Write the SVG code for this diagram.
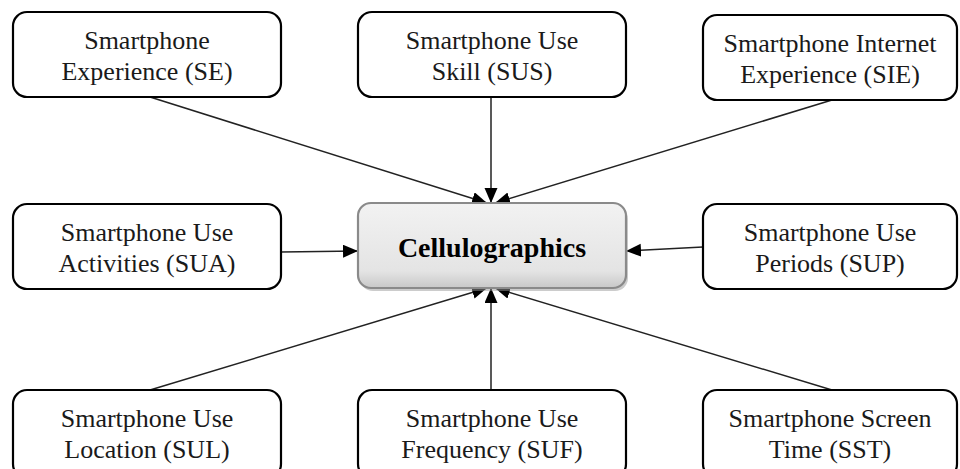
<svg xmlns="http://www.w3.org/2000/svg" width="960" height="469" viewBox="0 0 960 469">
<defs>
<style>
.box{fill:#fff;stroke:#000;stroke-width:2.2}
.t{font-family:"Liberation Serif","Times New Roman",serif;font-size:26px;fill:#1a1a1a;text-anchor:middle}
.c{font-family:"Liberation Serif","Times New Roman",serif;font-size:28px;font-weight:bold;fill:#000;text-anchor:middle}
.ln{stroke:#222;stroke-width:1.5;fill:none;marker-end:url(#ah)}
</style>
<marker id="ah" markerUnits="userSpaceOnUse" markerWidth="16" markerHeight="14" refX="15" refY="6.5" orient="auto">
<path d="M0,0 L15,6.5 L0,13 Z" fill="#000"/>
</marker>
<linearGradient id="g" x1="0" y1="0" x2="0" y2="1">
<stop offset="0" stop-color="#f2f2f2"/>
<stop offset="0.8" stop-color="#e4e4e4"/>
<stop offset="1" stop-color="#c8c8c8"/>
</linearGradient>
</defs>
<rect width="960" height="469" fill="#fff"/>
<g id="connectors">
<path class="ln" d="M150,97 L487,203"/>
<path class="ln" d="M491,97 L491,203"/>
<path class="ln" d="M832,100 L495,203"/>
<path class="ln" d="M281,252 L358,251"/>
<path class="ln" d="M703,247 L626,251"/>
<path class="ln" d="M150,390 L487,288"/>
<path class="ln" d="M491,390 L491,288"/>
<path class="ln" d="M832,390 L495,288"/>
</g>
<g id="SE"><rect class="box" x="13" y="12" width="268" height="85" rx="14"/><text class="t" x="147" y="49">Smartphone</text><text class="t" x="147" y="80">Experience (SE)</text></g>
<g id="SUS"><rect class="box" x="358" y="12" width="268" height="85" rx="14"/><text class="t" x="492" y="49">Smartphone Use</text><text class="t" x="492" y="80">Skill (SUS)</text></g>
<g id="SIE"><rect class="box" x="703" y="15" width="254" height="85" rx="14"/><text class="t" x="830" y="52">Smartphone Internet</text><text class="t" x="830" y="83">Experience (SIE)</text></g>
<g id="SUA"><rect class="box" x="13" y="204" width="268" height="85" rx="14"/><text class="t" x="147" y="241">Smartphone Use</text><text class="t" x="147" y="272">Activities (SUA)</text></g>
<g id="Cellulographics"><rect x="360" y="206" width="268" height="85" rx="13" fill="#9a9a9a" opacity="0.5"/><rect x="358" y="203" width="268" height="85" rx="13" fill="url(#g)" stroke="#8a8a8a" stroke-width="2.2"/><text class="c" x="492" y="257">Cellulographics</text></g>
<g id="SUP"><rect class="box" x="703" y="204" width="254" height="85" rx="14"/><text class="t" x="830" y="241">Smartphone Use</text><text class="t" x="830" y="272">Periods (SUP)</text></g>
<g id="SUL"><rect class="box" x="13" y="390" width="268" height="88" rx="14"/><text class="t" x="147" y="427">Smartphone Use</text><text class="t" x="147" y="458">Location (SUL)</text></g>
<g id="SUF"><rect class="box" x="358" y="390" width="268" height="88" rx="14"/><text class="t" x="492" y="427">Smartphone Use</text><text class="t" x="492" y="458">Frequency (SUF)</text></g>
<g id="SST"><rect class="box" x="703" y="390" width="254" height="88" rx="14"/><text class="t" x="830" y="427">Smartphone Screen</text><text class="t" x="830" y="458">Time (SST)</text></g>
</svg>
